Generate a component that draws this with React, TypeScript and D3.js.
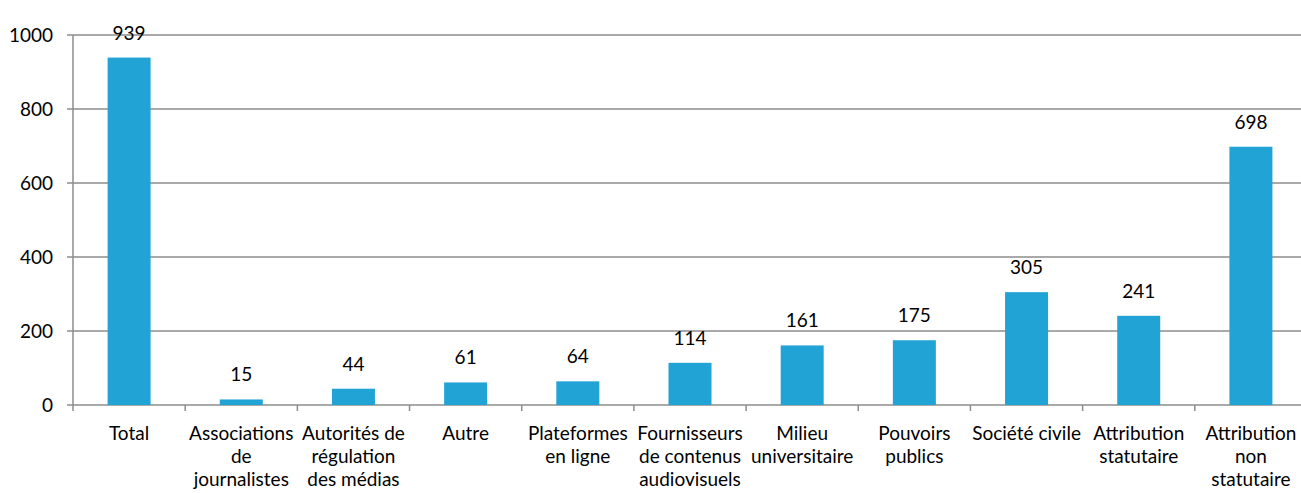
import React from 'react';
import * as d3 from 'd3';

// categories, as wrapped on the x axis
const categories = [
  'Total',
  'Associations\nde\njournalistes',
  'Autorités de\nrégulation\ndes médias',
  'Autre',
  'Plateformes\nen ligne',
  'Fournisseurs\nde contenus\naudiovisuels',
  'Milieu\nuniversitaire',
  'Pouvoirs\npublics',
  'Société civile',
  'Attribution\nstatutaire',
  'Attribution\nnon\nstatutaire'
];
const values = [939, 15, 44, 61, 64, 114, 161, 175, 305, 241, 698];
const yTicks = [0, 200, 400, 600, 800, 1000];

const width = 1301;
const height = 493;
const left = 73;
const right = 1307;
const top = 35;
const bottom = 405;
const font = "Lato, 'Open Sans', sans-serif";
const fs = 19;

export default function App() {
  const x = d3.scaleBand<number>()
    .domain(d3.range(categories.length))
    .range([left, right]);
  const y = d3.scaleLinear().domain([0, 1000]).range([bottom, top]);
  const barW = 43;
  const grid = '#8c8c8c';

  return (
    <svg width={width} height={height}
      style={{ position: 'absolute', left: 0, top: 0 }}
      fontFamily={font}>
      {/* gridlines and y labels */}
      {yTicks.map((t) => (
        <g key={t}>
          <line x1={left - 6} x2={right} y1={y(t)} y2={y(t)} stroke={grid} strokeWidth={1.5} />
          <text x={53} y={y(t)} dy="0.35em" textAnchor="end" fontSize={fs} fill="#000">{t}</text>
        </g>
      ))}
      <line x1={left} x2={left} y1={top} y2={bottom} stroke={grid} strokeWidth={1.5} />

      {/* category ticks */}
      {d3.range(categories.length + 1).map((i) => {
        const px = left + i * x.step();
        return <line key={i} x1={px} x2={px} y1={bottom} y2={bottom + 6} stroke={grid} strokeWidth={1.5} />;
      })}

      {/* bars */}
      {values.map((v, i) => {
        const cx = (x(i) as number) + x.bandwidth() / 2;
        return (
          <g key={i}>
            <rect x={cx - barW / 2} y={y(v)} width={barW} height={bottom - y(v)} fill="#22a3d6" />
            <text x={cx} y={y(v) - 18} textAnchor="middle" fontSize={fs} fill="#000">{v}</text>
          </g>
        );
      })}

      {/* x labels */}
      {categories.map((c, i) => {
        const cx = (x(i) as number) + x.bandwidth() / 2;
        return (
          <text key={i} textAnchor="middle" fontSize={fs} fill="#000">
            {c.split('\n').map((line, j) => (
              <tspan key={j} x={cx} y={440 + j * 23}>{line}</tspan>
            ))}
          </text>
        );
      })}
    </svg>
  );
}
